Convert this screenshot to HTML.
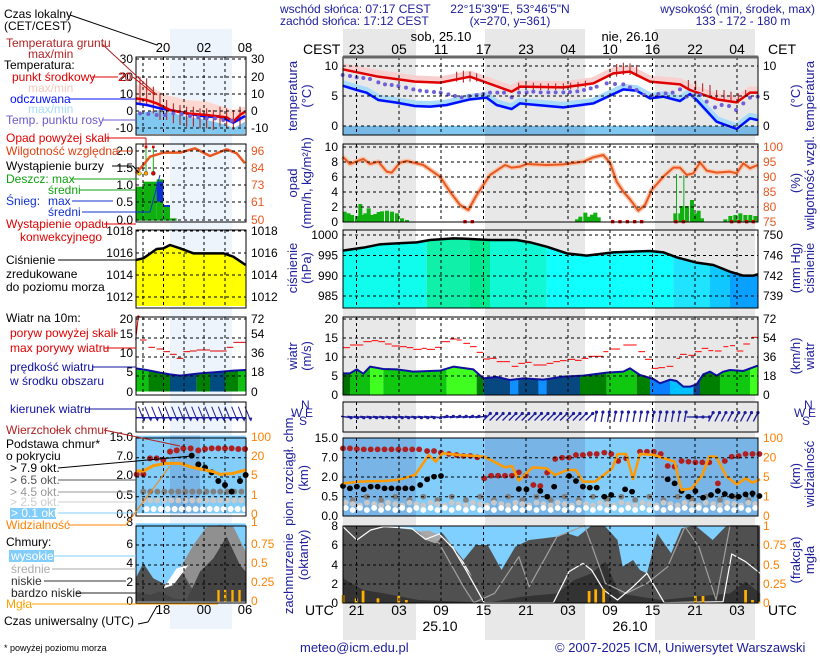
<!DOCTYPE html>
<html><head><meta charset="utf-8">
<style>
body{margin:0;background:#fff}
svg{display:block;font-family:"Liberation Sans",sans-serif}
</style></head>
<body>
<svg id="s" width="820" height="660" xmlns="http://www.w3.org/2000/svg">
<rect width="820" height="660" fill="#fff"/>
<rect x="170" y="29" width="62" height="600" fill="#eef4fc"/>
<rect x="343" y="29" width="73" height="611" fill="#e8e8e8"/>
<rect x="485" y="29" width="100" height="611" fill="#e8e8e8"/>
<rect x="655" y="29" width="100" height="611" fill="#e8e8e8"/>
<g id="dyn"></g>
</svg>
<script>
var o='';
function L(x1,y1,x2,y2,c,w,da){o+='<line x1="'+x1+'" y1="'+y1+'" x2="'+x2+'" y2="'+y2+'" stroke="'+c+'" stroke-width="'+(w||1)+'"'+(da?' stroke-dasharray="'+da+'"':'')+'/>';}
function T(x,y,s,c,a,fs,extra){o+='<text x="'+x+'" y="'+y+'" fill="'+(c||'#000')+'" font-size="'+(fs||12)+'" text-anchor="'+(a||'start')+'"'+(extra||'')+'>'+s+'</text>';}
function R(x,y,w,h,c){o+='<rect x="'+x+'" y="'+y+'" width="'+w+'" height="'+h+'" fill="'+c+'"/>';}
function PL(pts,c,w,fill){o+='<polyline points="'+pts+'" fill="'+(fill||'none')+'" stroke="'+c+'" stroke-width="'+w+'" vector-effect="non-scaling-stroke" stroke-linejoin="round"/>';}
function G(tr){o+='<g transform="'+tr+'">';} function GE(){o+='</g>';}
var B='#1c1c9c', OR='#ff8000', RD='#e00000';
var Z3='translate(330,40) scale(0.33333)', Z4='translate(330,225) scale(0.33333)', Z2='translate(280,380) scale(0.34615,0.33333)', Z1='scale(0.33333)', Z5='translate(0,225) scale(0.33333)';
var MX0=343,MX1=758,mx0=136,mx1=246;
var VX=[356.5,399,441,483.5,526,568,610,652.5,695,737];
var vx=[143,163.5,184,204,225];
var P={t:[57,135],p:[144,222],pr:[230,308],w:[317,395],d:[402,432],c:[438,516],k:[526,603]};

T(280,13,'wschód słońca: 07:17 CEST',B); T(280,25,'zachód słońca: 17:12 CEST',B);
T(510,13,'22°15\'39"E, 53°46\'5"N',B,'middle'); T(510,25,'(x=270,  y=361)',B,'middle');
T(815,13,'wysokość (min, środek, max)',B,'end'); T(743,25,'133 - 172 - 180 m',B,'middle');
T(441,41,'sob, 25.10','#000','middle',13); T(630,41,'nie, 26.10','#000','middle',13);
T(303,54,'CEST','#000','start',14); T(768,54,'CET','#000','start',14);
var ch=['23','05','11','17','23','04','10','16','22','04'], uh=['21','03','09','15','21','03','09','15','21','03'];
VX.forEach(function(x,i){T(x,54,ch[i],'#000','middle',14);T(x,615,uh[i],'#000','middle',14);});
T(305,615,'UTC','#000','start',14); T(768,615,'UTC','#000','start',14);
T(440,631,'25.10','#000','middle',14); T(630,631,'26.10','#000','middle',14);
T(4,18,'Czas lokalny'); T(4,30,'(CET/CEST)');
T(163,52,'20','#000','middle',13);T(204,52,'02','#000','middle',13);T(245,52,'08','#000','middle',13);
T(163,614,'18','#000','middle',13);T(204,614,'00','#000','middle',13);T(245,614,'06','#000','middle',13);
L(70,15,157,45,'#000');
T(4,625,'Czas uniwersalny (UTC)','#000','start',12); L(138,624,148,622,'#000'); L(148,622,157,606,'#000');
T(4,651,'* powyżej poziomu morza','#000','start',9);
T(300,652,'meteo@icm.edu.pl',B,'start',13); T(555,652,'© 2007-2025 ICM, Uniwersytet Warszawski',B,'start',13);

function nightBg(y0,y1){R(MX0,y0,MX1-MX0,y1-y0,'#fff');R(343,y0,73,y1-y0,'#e8e8e8');R(485,y0,100,y1-y0,'#e8e8e8');R(655,y0,103,y1-y0,'#e8e8e8');}
nightBg(P.t[0],P.t[1]); nightBg(P.p[0],P.p[1]); nightBg(P.w[0],P.w[1]); nightBg(P.d[0],P.d[1]);
R(MX0,126,MX1-MX0,9,'#80c8f0'); R(343,126,73,9,'#78b8e4');R(485,126,100,9,'#78b8e4');R(655,126,103,9,'#78b8e4');
['t','p','w','d'].forEach(function(k){R(mx0,P[k][0],mx1-mx0,P[k][1]-P[k][0],'#fff');R(170,P[k][0],62,P[k][1]-P[k][0],'#eef4fc');});

G(Z3);
PL('38,80 145,100 255,117 330,120 420,102 545,147 570,132 700,134 790,122 850,92 900,87 960,117 1050,125 1080,142 1160,170 1220,179 1260,150 1283,150','#f8d0d0',7);
PL('38,131 80,144 110,152 145,174 200,182 255,192 300,194 350,189 420,172 470,167 500,189 545,201 570,184 600,187 700,196 790,184 880,142 920,146 960,169 1000,164 1050,177 1080,156 1100,174 1160,239 1220,261 1260,229 1283,234','#a8dcf8',7);
[[380,95,125],[400,92,128],[420,95,125],[440,100,125],[566,128,150],[588,128,150],[610,128,150],[632,130,150],[655,130,150],[677,130,150],[700,130,150],[722,128,148],[744,126,146],[766,122,142],[860,72,110],[880,68,105],[900,70,105],[920,75,110],[1075,120,150],[1097,122,150],[1118,130,155],[1140,135,165],[1160,150,180],[1182,150,180],[1203,155,185],[1225,160,190],[1247,150,170]].forEach(function(a){o+='<line x1="'+a[0]+'" y1="'+a[1]+'" x2="'+a[0]+'" y2="'+a[2]+'" stroke="#b01818" stroke-width="1" vector-effect="non-scaling-stroke"/>';});
PL('38,88 145,110 255,125 330,128 420,110 545,155 570,140 700,142 790,130 850,100 900,95 960,125 1050,133 1080,150 1160,178 1220,187 1260,158 1283,158',RD,2.5);
PL('38,137 80,150 110,158 145,180 200,188 255,198 300,200 350,195 420,178 470,173 500,195 545,207 570,190 600,193 700,202 790,190 880,148 920,152 960,175 1000,170 1050,183 1080,162 1100,180 1160,245 1220,267 1260,235 1283,240','#0010ff',2.5);
[[38,105],[60,108],[80,112],[100,114],[120,117],[145,127],[165,133],[185,135],[205,138],[228,143],[250,148],[270,152],[290,154],[312,156],[332,158],[355,163],[375,168],[395,172],[418,168],[440,165],[460,162],[480,158],[502,158],[522,158],[545,172],[567,158],[590,157],[610,155],[632,157],[655,157],[677,157],[700,157],[720,156],[742,154],[762,150],[782,145],[800,140],[830,130],[855,132],[880,133],[900,142],[920,150],[942,165],[965,167],[985,162],[1007,160],[1028,158],[1050,148],[1070,170],[1090,168],[1110,165],[1130,185],[1155,202],[1175,195],[1197,198],[1218,210],[1240,190],[1260,173],[1283,170]].forEach(function(p){o+='<circle cx="'+p[0]+'" cy="'+p[1]+'" r="6" fill="#7060d8"/>';});
GE();
G(Z3);
var pb=[[38,515],[50,520],[60,525],[75,528],[85,492],[90,525],[100,520],[110,505],[120,525],[130,522],[140,516],[150,514],[165,512],[180,515],[195,520],[210,535],[225,540],[735,538],[745,530],[760,518],[770,530],[780,524],[790,518],[800,532],[1030,520],[1038,402],[1045,520],[1050,498],[1060,405],[1065,498],[1080,480],[1090,520],[1100,512],[1110,535],[1180,538],[1195,528],[1210,525],[1225,520],[1240,525],[1255,525],[1270,528]];
pb.forEach(function(b){o+='<rect x="'+b[0]+'" y="'+b[1]+'" width="'+(b[1]<450?3:12)+'" height="'+(545-b[1])+'" fill="#10b010"/>';});
var hum='38,350 60,372 100,357 120,372 145,365 170,395 185,398 210,368 230,363 280,375 330,410 360,455 390,495 415,510 440,465 480,405 525,375 545,383 570,380 590,372 650,375 700,373 760,365 790,352 820,345 840,368 860,425 880,455 900,478 925,512 945,495 965,450 1000,410 1030,383 1050,383 1070,405 1090,400 1110,367 1130,392 1160,398 1200,395 1220,400 1240,370 1260,385 1283,375';
PL(hum,'#f8c8b0',5);
PL(hum,'#e85820',2);
[405,427,848,870,892,914,935,1038,1060,1205,1227,1250,1270].forEach(function(x){o+='<rect x="'+(x-5)+'" y="540" width="10" height="10" fill="#e00000"/>';});
GE();
o+='<defs><clipPath id="cp"><polygon points="38,77 100,68 150,58 200,55 260,52 300,45 370,40 400,41 480,45 560,45 600,52 650,65 710,85 770,92 850,82 960,78 1000,82 1040,97 1100,113 1150,120 1200,140 1240,152 1270,152 1283,148 1283,250 38,250"/></clipPath>';
o+='<clipPath id="cw"><polygon points="38,445 60,445 80,433 100,446 120,425 160,432 200,433 250,440 300,438 330,437 370,425 430,433 460,460 500,456 540,465 580,460 640,464 700,455 760,452 830,443 880,440 900,430 930,450 970,462 990,475 1020,464 1040,468 1060,485 1080,485 1100,478 1120,448 1140,440 1160,452 1180,440 1200,435 1240,438 1283,422 1283,510 38,510"/></clipPath></defs>';
G(Z4);
o+='<g clip-path="url(#cp)">';
[[38,290,'#10fcec'],[290,420,'#10f0a8'],[420,480,'#00e890'],[480,650,'#10f8d4'],[650,1030,'#10ffff'],[1030,1140,'#20e4ff'],[1140,1200,'#10c8ff'],[1200,1283,'#0aa0ff']].forEach(function(c){R(c[0],0,c[1]-c[0],260,c[2]);});
o+='</g>';
PL('38,77 100,68 150,58 200,55 260,52 300,45 370,40 400,41 480,45 560,45 600,52 650,65 710,85 770,92 850,82 960,78 1000,82 1040,97 1100,113 1150,120 1200,140 1240,152 1270,152 1283,148','#000',2.5);
o+='<g clip-path="url(#cw)">';
[[38,60,'#007000'],[60,120,'#10c010'],[120,160,'#40ff20'],[160,350,'#10c810'],[350,440,'#40ff20'],[440,460,'#008000'],[460,750,'#084880'],[540,565,'#1090ff'],[625,650,'#1090ff'],[750,830,'#008000'],[830,920,'#10c810'],[920,960,'#008000'],[960,1020,'#0a80ff'],[1020,1090,'#00c0ff'],[1090,1110,'#104090'],[1110,1170,'#008000'],[1170,1260,'#10c810'],[1260,1283,'#40ff20']].forEach(function(c){R(c[0],400,c[1]-c[0],120,c[2]);});
o+='</g>';
PL('38,445 60,445 80,433 100,446 120,425 160,432 200,433 250,440 300,438 330,437 370,425 430,433 460,460 500,456 540,465 580,460 640,464 700,455 760,452 830,443 880,440 900,430 930,450 970,462 990,475 1020,464 1040,468 1060,485 1080,485 1100,478 1120,448 1140,440 1160,452 1180,440 1200,435 1240,438 1283,422','#1010a0',2);
[[38,60,368],[60,100,360],[100,125,350],[125,145,347],[145,165,350],[165,185,357],[185,210,363],[210,230,365],[230,250,368],[250,275,373],[275,290,370],[290,315,373],[315,335,367],[335,360,350],[360,380,342],[380,395,345],[400,420,355],[420,440,365],[440,460,382],[460,480,402],[480,500,400],[500,520,410],[520,540,410],[545,565,424],[565,585,415],[585,605,412],[610,650,420],[650,670,415],[670,690,410],[690,710,407],[715,735,403],[735,755,406],[755,775,400],[775,820,394],[820,835,380],[840,870,372],[880,920,360],[925,945,380],[945,965,403],[965,985,430],[985,1005,428],[1010,1030,424],[1040,1050,400],[1050,1070,388],[1075,1095,391],[1095,1115,380],[1115,1135,370],[1135,1150,377],[1155,1175,378],[1180,1195,365],[1200,1215,362],[1220,1240,378],[1240,1260,357],[1265,1283,337]].forEach(function(d){o+='<line x1="'+d[0]+'" y1="'+d[2]+'" x2="'+d[1]+'" y2="'+d[2]+'" stroke="#ff0000" stroke-width="1" vector-effect="non-scaling-stroke"/>';});
GE();
for(var x=346;x<757;x+=6.4){var a;if(x<440)a=8;else if(x<485)a=-8;else if(x<590)a=-45;else if(x<690)a=-80;else if(x<705)a=0;else a=-62;
var r=a*Math.PI/180,dx=5*Math.cos(r),dy=5*Math.sin(r);
o+='<line x1="'+(x-dx).toFixed(1)+'" y1="'+(417-dy).toFixed(1)+'" x2="'+(x+dx).toFixed(1)+'" y2="'+(417+dy).toFixed(1)+'" stroke="'+B+'" stroke-width="1.3"/>';
o+='<circle cx="'+(x+dx).toFixed(1)+'" cy="'+(417+dy).toFixed(1)+'" r="1.6" fill="'+B+'"/>';}
R(MX0,P.c[0],MX1-MX0,P.c[1]-P.c[0],'#82cdfa');R(343,P.c[0],73,78,'#78b4e6');R(485,P.c[0],100,78,'#78b4e6');R(655,P.c[0],103,78,'#78b4e6');
G(Z2);
var DR=8.5;
for(var zx=190;zx<1387;zx+=20.4){var i=Math.round(zx/20.4);
if(i%2==0)o+='<circle cx="'+zx.toFixed(0)+'" cy="'+(350+(i%4)*5)+'" r="'+DR+'" fill="#808080"/>';
o+='<circle cx="'+zx.toFixed(0)+'" cy="'+(368+(i%3)*4)+'" r="'+DR+'" fill="#c8c8c8"/>';
o+='<circle cx="'+zx.toFixed(0)+'" cy="'+(390-(i%2)*6)+'" r="'+DR+'" fill="#ffffff"/>';}
[[182,205],[202,205],[222,207],[242,208],[262,208],[282,208],[302,208],[322,208],[342,208],[362,208],[382,208],[402,208],[425,213],[445,213],[465,218],[488,222],[510,225],[530,228],[550,228],[570,232],[590,295],[610,287],[630,287],[650,287],[670,287],[690,277],[710,287],[732,315],[752,318],[772,278],[795,237],[815,233],[835,233],[855,225],[875,225],[895,222],[915,222],[937,218],[957,222],[977,243],[1000,235],[1040,215],[1060,215],[1080,215],[1100,222],[1120,258],[1140,260],[1160,243],[1180,245],[1200,247],[1220,247],[1240,247],[1265,310],[1285,243],[1305,230],[1325,228],[1345,222],[1365,222],[1385,222]].forEach(function(p){o+='<circle cx="'+p[0]+'" cy="'+p[1]+'" r="'+DR+'" fill="#b02020"/>';});
[[182,318],[202,325],[222,320],[242,328],[262,320],[282,320],[302,325],[322,325],[342,325],[362,325],[382,325],[405,315],[425,298],[445,290],[465,288],[690,327],[712,328],[752,333],[772,350],[792,320],[835,288],[855,303],[875,320],[895,323],[915,323],[937,350],[957,345],[997,328],[1017,335],[1120,298],[1140,310],[1160,333],[1180,350],[1200,333],[1222,353],[1245,345],[1265,333],[1285,342],[1305,348],[1325,350],[1345,343],[1365,340],[1385,348]].forEach(function(p){o+='<circle cx="'+p[0]+'" cy="'+p[1]+'" r="'+DR+'" fill="#000"/>';});
PL('182,310 230,305 300,303 340,300 390,285 430,225 450,245 470,220 520,225 590,230 650,262 670,258 690,302 730,262 770,265 795,285 830,270 855,270 875,305 910,305 960,265 975,222 1000,222 1020,297 1040,222 1080,225 1140,245 1160,330 1190,325 1220,285 1240,230 1260,230 1290,290 1320,313 1345,295 1365,308 1387,298','#ff9a00',2.5);
GE();
R(MX0,P.k[0],MX1-MX0,P.k[1]-P.k[0],'#80d0ff');
G(Z2);
o+='<polygon points="182,437 220,437 300,440 390,450 420,470 470,460 530,540 565,495 600,495 640,570 680,500 720,480 760,475 800,470 830,460 860,470 900,437 940,440 975,480 990,560 1020,540 1040,570 1060,580 1090,460 1130,520 1160,445 1200,437 1250,480 1290,437 1387,437 1387,670 182,670" fill="#505050"/>';
o+='<polygon points="400,455 430,452 470,470 450,490 420,480" fill="#a8a8a8"/>';
o+='<polygon points="182,595 240,630 300,640 400,660 600,668 700,650 800,640 850,600 900,580 940,545 980,640 1100,660 1300,640 1345,605 1387,640 1387,670 182,670" fill="#333"/>';
o+='<polygon points="470,465 500,500 540,570 555,590 530,545 490,490" fill="#fff"/>';
PL('390,450 460,490 530,620 560,668 620,640 690,530 720,620 800,470 880,437 940,610 1000,640 1060,610 1120,560 1170,440 1210,500 1260,660 1300,437 1387,437','#a0a0a0',1.2);
PL('182,440 222,480 262,450 300,440 380,445 420,478 460,462 500,505 540,575 590,668 790,668 835,575 875,550 900,570 935,630 975,660 1020,620 1060,580 1110,668 1280,665 1305,522 1345,545 1387,580','#ffffff',1.2);
[[182,645],[220,655],[240,632],[283,655],[343,648],[365,660],[893,633],[912,628],[935,627],[1200,648],[1222,648],[1345,630],[1365,660],[1384,665]].forEach(function(b){o+='<rect x="'+(b[0]-4)+'" y="'+b[1]+'" width="8" height="'+(670-b[1])+'" fill="#ffb000"/>';});
GE();

G(Z1);
o+='<polygon points="407,255 450,260 500,285 560,300 620,305 700,330 735,320 735,360 700,370 620,352 560,345 500,335 450,318 407,305" fill="#fcd8d0"/>';
o+='<polygon points="407,340 480,330 520,340 560,350 620,360 680,375 700,385 735,365 735,402 407,402" fill="#80c8f0"/>';
[420,440,460,480,500,520,540,560,580,600,620,640,660,680,700,720].forEach(function(x,i){var t=[230,235,260,280,300,310,315,320,320,325,325,330,320,325,330,320][i];o+='<line x1="'+x+'" y1="'+t+'" x2="'+x+'" y2="'+(t+(i<4?80:60))+'" stroke="#b01818" vector-effect="non-scaling-stroke"/>';});
PL('407,310 440,315 480,325 510,330 560,340 620,350 660,350 700,368 735,348','#0010ff',2.5);
PL('407,295 440,300 470,310 510,330 560,340 620,345 680,352 700,365 720,345 735,335',RD,2.5);
[[420,340],[445,342],[470,345],[495,345],[520,340],[545,342],[570,348],[595,352],[620,355],[645,355],[670,360],[695,362]].forEach(function(p){o+='<circle cx="'+p[0]+'" cy="'+p[1]+'" r="6" fill="#7060d8"/>';});
R(407,560,23,102,'#10b010');R(430,545,40,117,'#10b010');R(470,538,20,124,'#10b010');R(490,620,20,42,'#10b010');R(510,655,20,7,'#10b010');
R(470,545,20,60,'#1030d0');R(490,615,20,6,'#1030d0');
L(438,445,438,520,'#10b010',3);L(460,445,460,520,'#10b010',3);
R(434,437,8,8,RD);R(456,437,8,8,RD);
o+='<circle cx="418" cy="520" r="6" fill="#ffe000" stroke="#000"/><circle cx="438" cy="520" r="6" fill="#ffa000" stroke="#000"/><circle cx="460" cy="520" r="6" fill="#e00000" stroke="#000"/>';
PL('407,520 430,495 450,470 490,458 540,458 585,445 630,468 680,448 710,460 735,490','#e85820',2.5);
GE();
G(Z5);
o+='<polygon points="407,105 430,100 470,72 490,70 510,60 540,70 580,85 670,85 700,95 737,120 737,243 407,243" fill="#ffff00"/>';
PL('407,105 430,100 470,72 490,70 510,60 540,70 580,85 670,85 700,95 737,120','#000',2.5);
o+='<clipPath id="cm"><polygon points="407,430 440,435 480,443 510,448 540,452 600,445 640,442 700,437 737,435 737,500 407,500"/></clipPath><g clip-path="url(#cm)">';
[[407,445,'#10c010'],[445,510,'#008000'],[510,590,'#004c80'],[590,630,'#008000'],[630,675,'#004c80'],[675,715,'#008000'],[715,737,'#10c010']].forEach(function(c){R(c[0],420,c[1]-c[0],80,c[2]);});
o+='</g>';
PL('407,430 440,435 480,443 510,448 540,452 600,445 640,442 700,437 737,435','#1010a0',2);
L(407,345,415,275,RD,3);o+='<circle cx="415" cy="275" r="4" fill="'+RD+'"/>';
[[420,440,345],[445,465,367],[470,490,372],[490,510,380],[510,530,388],[530,550,400],[550,570,380],[570,590,378],[590,630,375],[630,680,378],[680,700,367],[700,737,352]].forEach(function(d){L(d[0],d[2],d[1],d[2],RD,3);});
for(var ax=415;ax<737;ax+=20){L(ax,545,ax+16,585,B,3);o+='<polygon points="'+(ax+10)+',578 '+(ax+22)+',578 '+(ax+18)+',590" fill="'+B+'"/>';}
L(407,578,737,578,B,4);
R(407,632,330,233,'#82cdfa');R(510,632,90,233,'#78b4e6');
var MR=9;
for(var cx=430;cx<737;cx+=21){o+='<circle cx="'+cx+'" cy="800" r="'+MR+'" fill="#808080"/><circle cx="'+cx+'" cy="826" r="'+MR+'" fill="#c8c8c8"/><circle cx="'+(cx+10)+'" cy="852" r="'+MR+'" fill="#fff"/>';}
[[410,748],[430,748],[450,700],[470,700],[490,705],[510,680],[530,676],[550,670],[572,670],[595,676],[615,672],[635,670],[655,670],[675,670],[695,670],[715,672],[735,672]].forEach(function(p){o+='<circle cx="'+p[0]+'" cy="'+p[1]+'" r="'+MR+'" fill="#b02020"/>';});
[[575,692],[595,718],[615,728],[635,742],[655,768],[675,780],[695,800],[720,768],[737,750]].forEach(function(p){o+='<circle cx="'+p[0]+'" cy="'+p[1]+'" r="'+MR+'" fill="#000"/>';});
PL('407,738 430,738 460,722 500,715 540,715 570,725 600,732 640,740 660,748 700,745 737,735','#ff9a00',3);
R(407,895,330,235,'#80d0ff');
o+='<polygon points="407,1060 430,1015 460,1060 500,1080 540,1030 570,1025 600,945 640,920 680,935 700,990 737,1060 737,1130 407,1130" fill="#505050"/>';
o+='<polygon points="540,1030 580,960 620,905 660,900 700,905 737,980 737,1130 600,1130" fill="#909090"/>';
o+='<polygon points="490,1090 530,1030 565,1020 520,1080" fill="#fff"/>';
o+='<polygon points="407,1100 450,1110 480,1100 520,1120 560,1125 600,1040 640,1000 680,935 720,1020 737,1040 737,1130 407,1130" fill="#444"/>';
[655,675,697,718].forEach(function(x){R(x-3,1095,7,35,'#ffb000');});
GE();

function grid(x0,x1,xs,y0,y1,ys){xs.forEach(function(x){L(x,y0,x,y1,'#000',1,'3,3');});ys.forEach(function(y){L(x0,y,x1,y,'#000',1,'3,3');});o+='<rect x="'+x0+'" y="'+y0+'" width="'+(x1-x0)+'" height="'+(y1-y0)+'" fill="none" stroke="#000" stroke-width="1"/>';}
var HY={t:[66,96,126],p:[147,162,177,192,207],pr:[235,255.5,276,296],w:[319,338,357,376],d:[],c:[457.7,477,496.7],k:[545,565,584]};
for(var k in P){grid(MX0,MX1,VX,P[k][0],P[k][1],HY[k]);}
L(MX0,57,MX1,57,'#666',3);
var hm={t:[59,77,94,111,128],p:[151,168,185,202,220],pr:[231,253,275,297],w:[319,338,357,376],d:[],c:[457.7,477,496.7],k:[545,565,584]};
for(var k in P){grid(mx0,mx1,vx,P[k][0],P[k][1],hm[k]);}

function lab(x,a,arr,c){arr.forEach(function(v){T(x,v[1]+4,v[0],c||'#000',a,12);});}
lab(338,'end',[['10',66],['5',96],['0',126]]); lab(763,'start',[['10',66],['5',96],['0',126]]);
lab(338,'end',[['10',147],['8',162],['6',177],['4',192],['2',207],['0',222]]);
lab(763,'start',[['100',147],['95',162],['90',177],['85',192],['80',207],['75',222]],'#e85820');
lab(338,'end',[['1000',235],['995',255.5],['990',276],['985',296]]); lab(763,'start',[['750',235],['746',255.5],['742',276],['739',296]]);
lab(338,'end',[['20',319],['15',338],['10',357],['5',376],['0',395]]); lab(763,'start',[['72',319],['54',338],['36',357],['18',376],['0',395]]);
lab(338,'end',[['15.0',438],['7.0',457.7],['2.0',477],['0.5',496.7],['0.0',516]]); lab(763,'start',[['100',438],['20',457.7],['5',477],['1',496.7],['0',516]],OR);
lab(338,'end',[['8',526],['6',545],['4',565],['2',584],['0',603]]); lab(763,'start',[['1',526],['0.75',545],['0.5',565],['0.25',584],['0',603]],OR);
lab(133,'end',[['30',59],['20',77],['10',94],['0',111],['-10',128]]); lab(251,'start',[['30',59],['20',77],['10',94],['0',111],['-10',128]]);
lab(133,'end',[['2.0',151],['1.5',168],['1.0',185],['0.5',202],['0.0',220]]); lab(251,'start',[['96',151],['84',168],['73',185],['61',202],['50',220]],'#e85820');
lab(133,'end',[['1018',231],['1016',253],['1014',275],['1012',297]]); lab(251,'start',[['1018',231],['1016',253],['1014',275],['1012',297]]);
lab(133,'end',[['20',319],['15',334],['10',353],['5',372],['0',392]]); lab(251,'start',[['72',319],['54',334],['36',353],['18',372],['0',392]]);
lab(133,'end',[['15.0',437],['7.0',456],['2.0',475],['0.5',495],['0.0',514]]); lab(251,'start',[['100',437],['20',456],['5',475],['1',495],['0',514]],OR);
lab(133,'end',[['8',522],['6',544],['4',563],['2',582],['0',601]]); lab(251,'start',[['1',522],['0.75',544],['0.5',563],['0.25',582],['0',601]],OR);

function rt(x,y,s,c){T(x,y,s,c||B,'middle',13,' transform="rotate(-90 '+x+' '+y+')"');}
rt(297,96,'temperatura');rt(311,96,'(°C)');rt(297,183,'opad');rt(311,183,'(mm/h, kg/m²/h)');
rt(297,268,'ciśnienie');rt(311,268,'(hPa)');rt(297,356,'wiatr');rt(311,356,'(m/s)');
rt(293,514,'zachmurzenie&#160;&#160;pion. rozciągł. chm.');rt(308,478,'(km)');rt(308,555,'(oktanty)');
rt(800,96,'(°C)');rt(814,96,'temperatura');rt(800,183,'(%)');rt(814,183,'wilgotność wzgl.');
rt(800,268,'(mm Hg)');rt(814,268,'ciśnienie');rt(800,356,'(km/h)');rt(814,356,'wiatr');
rt(800,476,'(km)');rt(814,474,'widzialność');rt(800,560,'(frakcja)');rt(814,560,'mgła');
[291,794].forEach(function(x){T(x+10,409,'N',B,'start',12);T(x,417,'W',B,'start',12);T(x+14,417,'E',B,'start',12);T(x+8,425,'S',B,'start',12);});

T(6,47,'Temperatura gruntu','#b22222');T(28,58,'max/min','#b22222');L(102,44,157,95,'#b22222');
T(4,69,'Temperatura:');
T(12,81,'punkt środkowy',RD);L(92,77,118,77,RD);T(118,81,'20',RD,'start',12);L(133,77,155,95,RD);
T(28,92,'max/min','#f4c8c0');
T(10,103,'odczuwana','#0010ff');L(70,99,136,99,'#0010ff');
T(28,113,'max/min','#a8dcf8');
T(6,124,'Temp. punktu rosy','#6a5acd');L(102,120,136,120,'#6a5acd');
T(6,142,'Opad powyżej skali',RD);L(106,138,146,138,RD);L(146,138,146,146,RD);
T(6,155,'Wilgotność względna','#e04010');L(118,151,133,151,'#e04010');
T(6,170,'Wystąpienie burzy');L(112,166,133,166,'#000');L(133,166,139,173,'#000');
T(6,183,'Deszcz: max','#10a010');L(72,179,139,179,'#10a010');
T(48,194,'średni','#10a010');L(80,190,136,190,'#10a010');
T(6,205,'Śnieg:','#1030d0');T(48,205,'max','#1030d0');L(72,201,113,201,'#1030d0');
T(48,216,'średni','#1030d0');L(82,212,150,212,'#1030d0');L(150,212,160,175,'#1030d0');
T(6,228,'Wystąpienie opadu',RD);L(104,224,136,224,RD);T(20,241,'konwekcyjnego',RD);
T(6,264,'Ciśnienie');L(58,260,136,260,'#000');T(6,278,'zredukowane');T(6,291,'do poziomu morza');
T(6,322,'Wiatr na 10m:');
T(10,337,'poryw powyżej skali',RD);L(114,333,118,333,RD);
T(10,352,'max porywy wiatru',RD);L(104,348,136,348,RD);
T(10,371,'prędkość wiatru','#1010a0');L(92,367,136,367,'#1010a0');T(10,385,'w środku obszaru','#1010a0');
T(10,413,'kierunek wiatru','#1010a0');L(86,409,136,409,'#1010a0');
T(6,434,'Wierzchołek chmur','#b02020');L(104,430,180,446,'#b02020');
T(6,448,'Podstawa chmur*');T(6,460,'o pokryciu');
T(10,472,'> 7.9 okt.');L(58,468,192,456,'#000');
T(10,484,'> 6.5 okt.','#555');L(58,480,136,480,'#555');
T(10,496,'> 4.5 okt.','#999');L(58,492,136,492,'#999');
T(10,506,'> 2.5 okt.','#ccc');L(58,502,136,502,'#ccc');
R(10,508,46,11,'#82cdfa');T(11,517,'> 0.1 okt.','#fff');L(58,513,136,513,'#82cdfa');
T(6,529,'Widzialność',OR);L(68,525,126,525,OR);L(126,525,170,466,OR);
T(6,546,'Chmury:');
R(9,550,45,12,'#82cdfa');T(11,560,'wysokie','#fff');L(54,556,136,556,'#82cdfa');
T(11,573,'średnie','#aaa');L(52,569,136,569,'#aaa');
T(11,585,'niskie','#333');L(44,581,126,581,'#333');
T(11,597,'bardzo niskie','#222');L(76,593,136,593,'#222');
T(6,608,'Mgła','#ffa000');L(32,604,218,604,'#ffa000');

document.getElementById('dyn').innerHTML=o;
</script>
</body></html>
